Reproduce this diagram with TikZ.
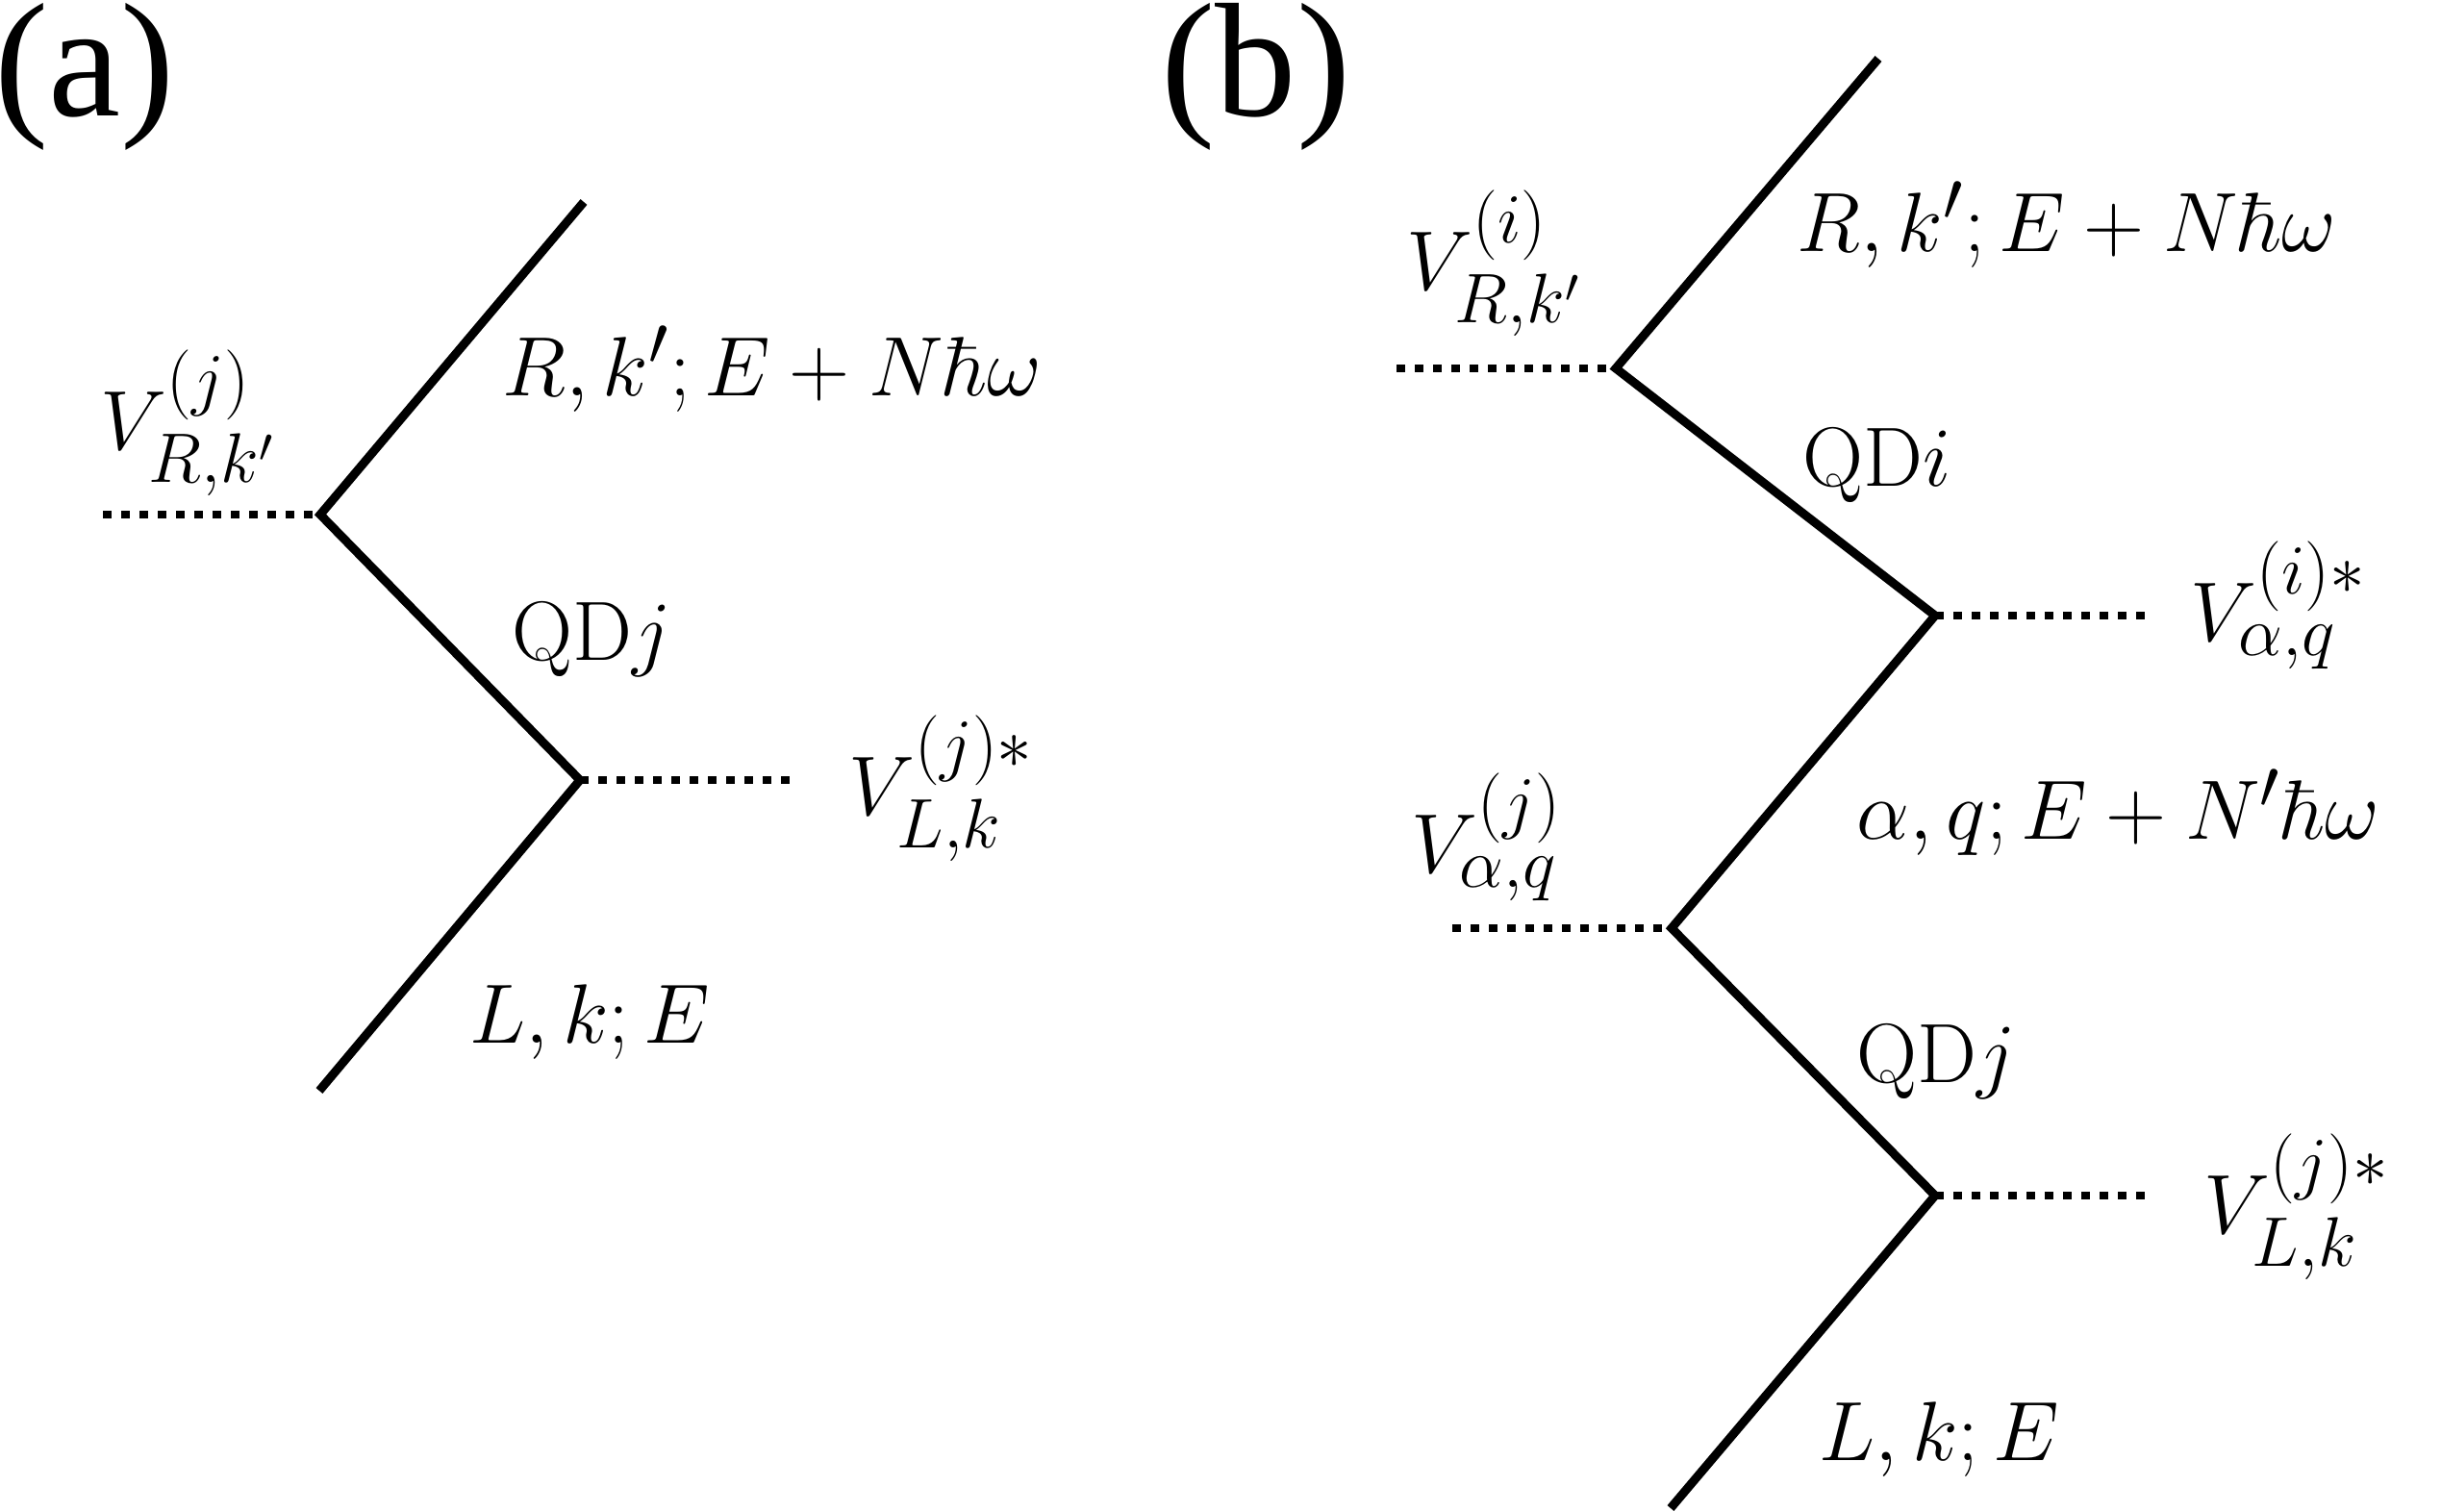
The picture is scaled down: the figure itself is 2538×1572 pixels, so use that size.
\documentclass[tikz,border=0pt]{standalone}
\usepackage{amsmath}
\usepackage[no-math]{fontspec}
\setmainfont{Liberation Serif}
\usetikzlibrary{calc}

\begin{document}
\begin{tikzpicture}[x=0.01cm, y=-0.01cm,
  wire/.style={line width=0.09cm, line join=miter},
  vdots/.style={line width=0.08cm, dash pattern=on 0.085cm off 0.105cm},
  lab/.style={inner sep=0pt, anchor=base west, font=\fontsize{27.5}{33}\selectfont},
  panel/.style={inner sep=0pt, anchor=base west, font=\fontsize{48}{56}\selectfont}]
\useasboundingbox (0,0) rectangle (2538,1572);
% (a)
\coordinate (a0) at (607,210);
\coordinate (a1) at (333,535);
\coordinate (a2) at (603,811);
\coordinate (a3) at (332,1134);
\coordinate (a1d) at (107,535);
\coordinate (a2d) at (830,811);
\draw[wire] (a0) -- (a1) -- (a2) -- (a3);
\draw[vdots] (a1d) -- (a1);
\draw[vdots] (a2) -- (a2d);
\node[panel] (pa) at (-6,120) {(a)};
\node[lab] (va1) at (104,467) {$V^{(j)}_{R,k'}$};
\node[lab] (ra) at (522,411) {$R,k';E+N\hbar\omega$};
\node[lab] (qdja) at (532,686) {$\mathrm{QD}j$};
\node[lab] (va2) at (882,847) {$V^{(j)*}_{L,k}$};
\node[lab] (la) at (488,1084) {$L,k;E$};
% (b)
\coordinate (b0) at (1953,61);
\coordinate (b1) at (1680,383);
\coordinate (b2) at (2012,640);
\coordinate (b3) at (1738,965);
\coordinate (b4) at (2012,1243);
\coordinate (b5) at (1737,1568);
\coordinate (b1d) at (1452,383);
\coordinate (b2d) at (2234,640);
\coordinate (b3d) at (1510,965);
\coordinate (b4d) at (2235,1243);
\draw[wire] (b0) -- (b1) -- (b2) -- (b3) -- (b4) -- (b5);
\draw[vdots] (b1d) -- (b1);
\draw[vdots] (b2) -- (b2d);
\draw[vdots] (b3d) -- (b3);
\draw[vdots] (b4) -- (b4d);
\node[panel] (pb) at (1207,120) {(b)};
\node[lab] (vb1) at (1462,301) {$V^{(i)}_{R,k'}$};
\node[lab] (rb) at (1868,261) {$R,k';E+N\hbar\omega$};
\node[lab] (qdi) at (1874,505) {$\mathrm{QD}i$};
\node[lab] (vb2) at (2277,666) {$V^{(i)*}_{\alpha,q}$};
\node[lab] (aq) at (1930,872) {$\alpha,q;E+N'\hbar\omega$};
\node[lab] (vb3) at (1467,907) {$V^{(j)}_{\alpha,q}$};
\node[lab] (qdjb) at (1930,1125) {$\mathrm{QD}j$};
\node[lab] (vb4) at (2291,1282) {$V^{(j)*}_{L,k}$};
\node[lab] (lb) at (1891,1518) {$L,k;E$};
\end{tikzpicture}
\end{document}
